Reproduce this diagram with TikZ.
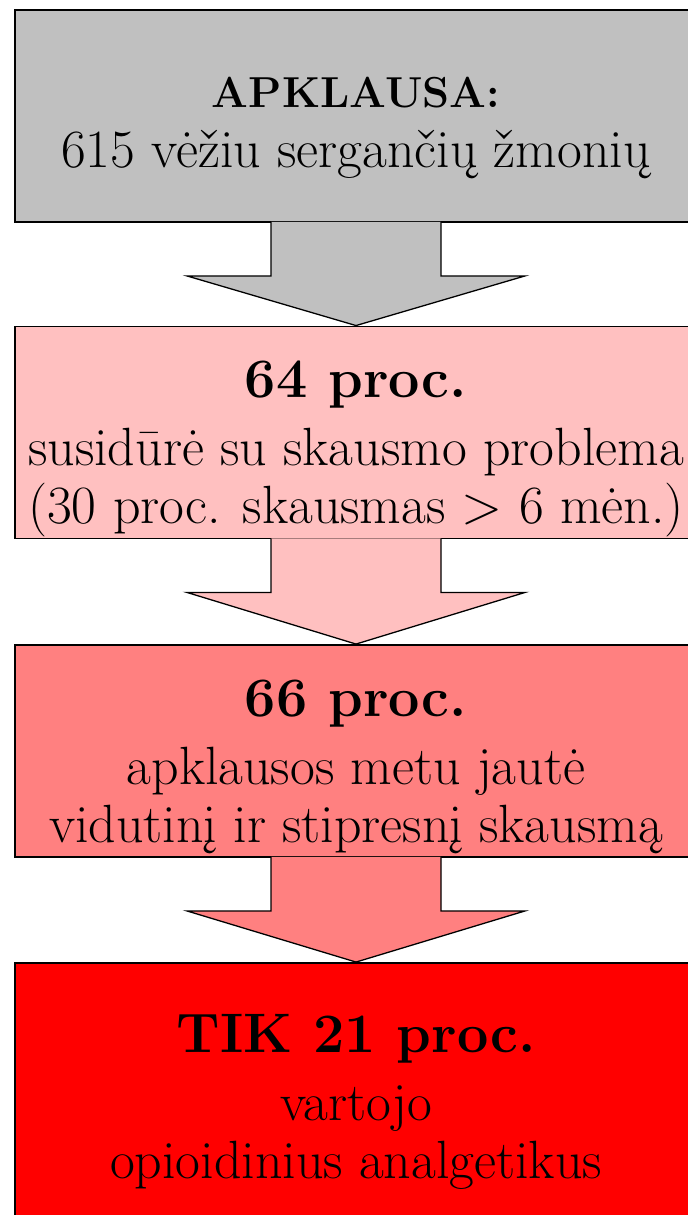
\documentclass[tikz,border=0pt]{standalone}
\usetikzlibrary{calc}
\definecolor{boxgrey}{RGB}{192,192,192}
\definecolor{boxpink}{RGB}{255,192,192}
\definecolor{boxsalmon}{RGB}{255,128,128}
\definecolor{boxred}{RGB}{255,0,0}
\tikzset{
    stage/.style={rectangle,draw,line width=1.6pt,minimum width=20.46cm,minimum height=6.36cm,inner sep=0pt},
    stagetext/.style={align=center,inner sep=0pt,font=\fontsize{46}{49.5}\selectfont},
    blockarrow/.style={draw=black,line width=1.1pt,line join=miter},
}
\newcommand{\bigbold}{\fontsize{47.5}{55}\selectfont\bfseries}

\begin{document}
\begin{tikzpicture}[x=0.03cm,y=-0.03cm]
    \useasboundingbox (0,0) rectangle (687,1215);
    \node[stage, fill=boxgrey] (b1) at (356,116) {};
    \node[stage, fill=boxpink] (b2) at (356,432.5) {};
    \node[stage, fill=boxsalmon] (b3) at (356,751) {};
    \node[stage, fill=boxred, minimum height=7.92cm] (b4) at (356,1095) {};
    \node[stagetext] (t1) at ($(b1.center)+(0,12)$) {{\fontsize{37}{49}\selectfont\bfseries APKLAUSA:}\\[0.06cm]615 vėžiu sergančių žmonių};
    \node[stagetext] (t2) at ($(b2.center)+(0,16)$) {{\bigbold 64 proc.}\\[0.3cm]susidūrė su skausmo problema\\(30 proc. skausmas > 6 mėn.)};
    \node[stagetext] (t3) at ($(b3.center)+(0,16)$) {{\bigbold 66 proc.}\\[0.3cm]apklausos metu jautė\\vidutinį ir stipresnį skausmą};
    \node[stagetext] (t4) at ($(b4.center)+(0,7)$) {{\bigbold TIK 21 proc.}\\[0.3cm]vartojo\\opioidinius analgetikus};
    \draw[blockarrow, fill=boxgrey] ($(b1.south)+(-85,-1)$) -- ($(b1.south)+(-85,53)$) -- ($(b1.south)+(-169,53)$) -- (b2.north) -- ($(b1.south)+(169,53)$) -- ($(b1.south)+(85,53)$) -- ($(b1.south)+(85,-1)$);
    \draw[blockarrow, fill=boxpink] ($(b2.south)+(-85,-1)$) -- ($(b2.south)+(-85,53)$) -- ($(b2.south)+(-169,53)$) -- (b3.north) -- ($(b2.south)+(169,53)$) -- ($(b2.south)+(85,53)$) -- ($(b2.south)+(85,-1)$);
    \draw[blockarrow, fill=boxsalmon] ($(b3.south)+(-85,-1)$) -- ($(b3.south)+(-85,53)$) -- ($(b3.south)+(-169,53)$) -- (b4.north) -- ($(b3.south)+(169,53)$) -- ($(b3.south)+(85,53)$) -- ($(b3.south)+(85,-1)$);
\end{tikzpicture}
\end{document}
